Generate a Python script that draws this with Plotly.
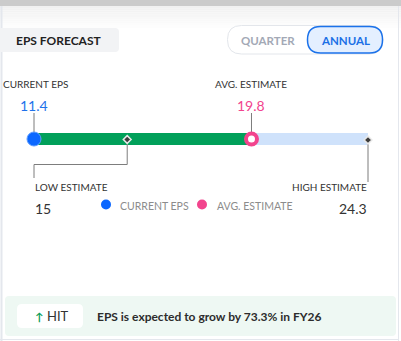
import plotly.graph_objects as go

# ---- data ----
categories = ["CURRENT EPS", "LOW ESTIMATE", "AVG. ESTIMATE", "HIGH ESTIMATE"]
values = [11.4, 15.0, 19.8, 24.3]
value_labels = ["11.4", "15", "19.8", "24.3"]
legend_labels = ["CURRENT EPS", "AVG. ESTIMATE"]
growth_pct = "73.3%"
fiscal_year = "FY26"
title_text = "EPS FORECAST"
toggle_labels = ["QUARTER", "ANNUAL"]

cur, low, avg, high = values

FONT = "Lato, 'Open Sans', sans-serif"
BLUE = "#0b67ff"
PINK = "#f2448d"
GREEN = "#01a05a"
LIGHT = "#cfe2fb"
LINE = "#7d7d7d"
DARK = "#333333"

W, H = 401, 341
# horizontal scale of the value axis (value -> pixels)
px_cur, px_high = 34, 368
scale = (px_high - px_cur) / (high - cur)
x0 = cur - px_cur / scale
x1 = x0 + W / scale

fig = go.Figure()


def rrect(a, b, c, d, r):
    return (f"M {a+r},{b} L {c-r},{b} Q {c},{b} {c},{b+r} L {c},{d-r} Q {c},{d} {c-r},{d} "
            f"L {a+r},{d} Q {a},{d} {a},{d-r} L {a},{b+r} Q {a},{b} {a+r},{b} Z")


shapes = []
# top gray band and soft gradient
shapes.append(dict(type="rect", xref="x2", yref="y", x0=0, x1=W, y0=0, y1=6,
                   fillcolor="#cbcbcb", line_width=0, layer="below"))
steps = 10
for i in range(steps):
    g = int(0xf1 + (0xff - 0xf1) * i / steps)
    col = f"rgb({g},{g},{g})"
    shapes.append(dict(type="rect", xref="x2", yref="y", x0=0, x1=W,
                       y0=6 + i * 2.2, y1=6 + (i + 1) * 2.2,
                       fillcolor=col, line_width=0, layer="below"))
# card borders
shapes.append(dict(type="line", xref="x2", yref="y", x0=1.5, x1=1.5, y0=6, y1=H,
                   line=dict(color="#e4e7ed", width=2), layer="below"))
shapes.append(dict(type="line", xref="x2", yref="y", x0=398.5, x1=398.5, y0=6, y1=H,
                   line=dict(color="#e4e7ed", width=1), layer="below"))
shapes.append(dict(type="line", xref="x2", yref="y", x0=0, x1=399, y0=339.5, y1=339.5,
                   line=dict(color="#e4e7ed", width=1), layer="below"))
# title box
shapes.append(dict(type="path", xref="x2", yref="y", path=rrect(-6, 28, 119, 52, 4),
                   fillcolor="#f2f3f5", line_width=0, layer="below"))
# toggle
shapes.append(dict(type="path", xref="x2", yref="y", path=rrect(227.5, 25.5, 383, 54, 14),
                   fillcolor="white", line=dict(color="#e3e6eb", width=1), layer="below"))
shapes.append(dict(type="path", xref="x2", yref="y", path=rrect(307.5, 26.5, 382.5, 53, 13),
                   fillcolor="#e4efff", line=dict(color="#1b72ea", width=1.5), layer="below"))
# bottom panel
shapes.append(dict(type="path", xref="x2", yref="y", path=rrect(5, 296, 396, 336, 4),
                   fillcolor="#eef8f3", line_width=0, layer="below"))
shapes.append(dict(type="path", xref="x2", yref="y", path=rrect(17, 304, 83, 328, 5),
                   fillcolor="white", line_width=0, layer="below"))

# ---- range bar ----
fig.add_trace(go.Bar(y=[139, 139], base=[cur, avg], x=[avg - cur, high - avg],
                     orientation="h", width=12, marker=dict(color=[GREEN, LIGHT], line_width=0),
                     hoverinfo="skip", showlegend=False))

# connectors
conn = dict(mode="lines", line=dict(color=LINE, width=1), hoverinfo="skip", showlegend=False)
fig.add_trace(go.Scatter(x=[cur, cur], y=[113, 133], **conn))
fig.add_trace(go.Scatter(x=[avg, avg], y=[113, 133], **conn))
fig.add_trace(go.Scatter(x=[low, low, cur, cur], y=[142, 164.5, 164.5, 178], **conn))
fig.add_trace(go.Scatter(x=[high, high], y=[142, 182], **conn))

# markers
fig.add_trace(go.Scatter(x=[low, high], y=[139.5, 140], mode="markers",
                         marker=dict(symbol="diamond", size=6, color="#3c3c3c",
                                     line=dict(color="#e8e8e8", width=1.5)),
                         hoverinfo="skip", showlegend=False))
fig.add_trace(go.Scatter(x=[cur], y=[139], mode="markers",
                         marker=dict(size=14, color=BLUE, line=dict(color="#5c9cff", width=1)),
                         hoverinfo="skip", showlegend=False))
fig.add_trace(go.Scatter(x=[avg], y=[139], mode="markers",
                         marker=dict(size=11, color="white", line=dict(color=PINK, width=4)),
                         hoverinfo="skip", showlegend=False))

# legend dots
fig.add_trace(go.Scatter(x=[106, 202], y=[204.5, 204.5], xaxis="x2", yaxis="y", mode="markers",
                         marker=dict(size=10, color=[BLUE, PINK]),
                         hoverinfo="skip", showlegend=False))

ann = []


def t(x, y, text, size, color, xanchor="center", xref="x", bold=False):
    ann.append(dict(x=x, y=y, xref=xref, yref="y", text=f"<b>{text}</b>" if bold else text,
                    showarrow=False, xanchor=xanchor, yanchor="middle",
                    font=dict(family=FONT, size=size, color=color)))


t(1, 40, title_text, 12, "#222", xanchor="left", xref="x2", bold=True) if False else None
t(59, 40, title_text, 12, "#222", xref="x2", bold=True)
t(267.5, 40, toggle_labels[0], 11.5, "#a3a9b6", xref="x2", bold=True)
t(345, 40, toggle_labels[1], 11.5, "#1b6fe6", xref="x2", bold=True)

t(1, 83.5, categories[0], 10, DARK, xanchor="left", xref="x2")
t(cur, 105.5, value_labels[0], 14, "#1f72ea")
t(avg, 83.5, categories[2], 10, DARK)
t(avg, 105.5, value_labels[2], 14, PINK)
t(cur - 0.04, 186.5, categories[1], 10, DARK, xanchor="left")
t(cur - 0.04, 208, value_labels[1], 14, DARK, xanchor="left")
t(high + 0.04, 186.5, categories[3], 10, DARK, xanchor="right")
t(high + 0.04, 208, value_labels[3], 14, DARK, xanchor="right")
t(118, 205.5, legend_labels[0], 10.5, "#8c8c8c", xanchor="left", xref="x2")
t(214.5, 205.5, legend_labels[1], 10.5, "#8c8c8c", xanchor="left", xref="x2")

t(38.5, 316, "↑", 11, "#0a9d58", xref="x2", bold=True)
t(44.5, 316, "HIT", 13, DARK, xanchor="left", xref="x2")
t(95, 316, f"EPS is expected to grow by {growth_pct} in {fiscal_year}", 12, "#2c2c2c",
  xanchor="left", xref="x2", bold=True)

fig.update_layout(
    width=W, height=H, margin=dict(l=0, r=0, t=0, b=0),
    paper_bgcolor="white", plot_bgcolor="rgba(0,0,0,0)",
    xaxis=dict(range=[x0, x1], visible=False, fixedrange=True),
    xaxis2=dict(range=[0, W], visible=False, overlaying="x", anchor="y", fixedrange=True),
    yaxis=dict(range=[H, 0], visible=False, fixedrange=True),
    shapes=shapes, annotations=ann, showlegend=False, bargap=0,
    font=dict(family=FONT),
)

fig.write_html("out.html")
